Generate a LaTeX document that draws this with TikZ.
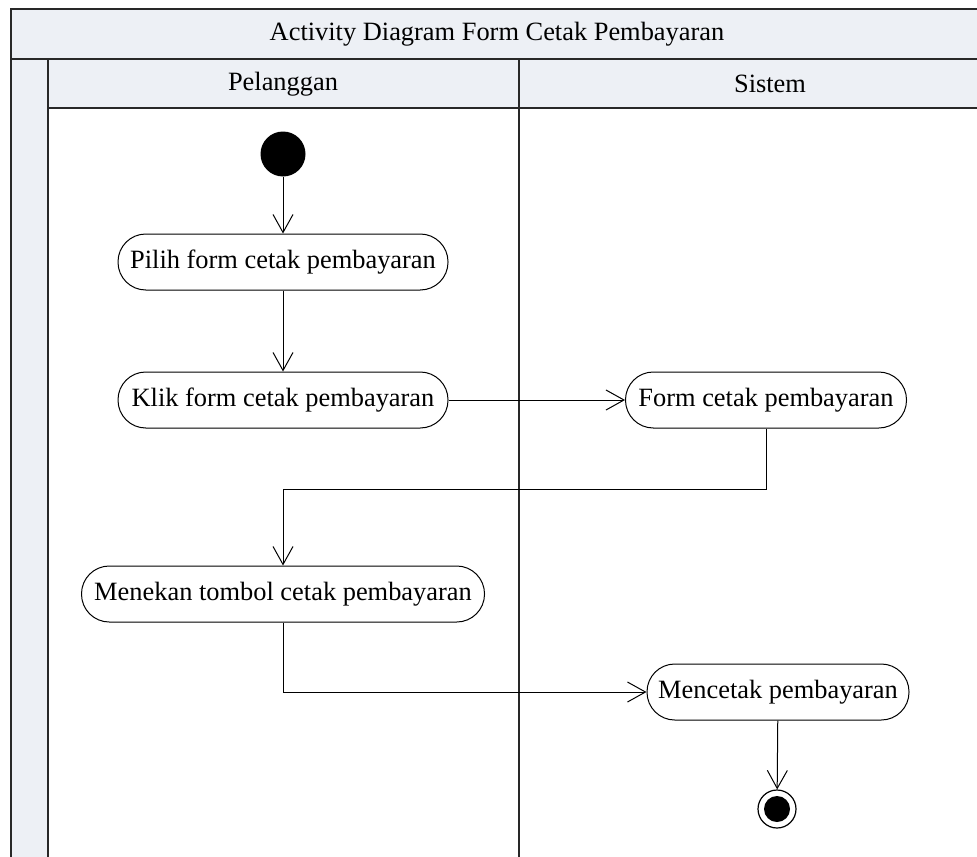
\documentclass[tikz,border=0pt]{standalone}
\usepackage{fontspec}
\setmainfont{Liberation Serif}
\usetikzlibrary{arrows.meta}
\definecolor{lanefill}{RGB}{237,240,245}
\definecolor{laneline}{RGB}{40,40,40}
\tikzset{
  act/.style={draw=black, line width=0.5pt, rounded corners=13.9pt, minimum height=28pt, inner sep=0pt, fill=white, font=\fontsize{13.2}{16}\selectfont},
  flow/.style={draw=black, line width=0.5pt, -{Straight Barb[length=9pt,width=10pt]}},
  lane/.style={draw=laneline, line width=1pt},
  lbl/.style={font=\fontsize{13.2}{16}\selectfont}
}
\begin{document}
\begin{tikzpicture}[x=0.5pt,y=-0.5pt]
	\useasboundingbox (0,0) rectangle (977,856);
	\clip (0,0) rectangle (977,856);
	% swimlanes
	\fill[lanefill] (11,9) rectangle (990,108);
	\fill[lanefill] (11,59) rectangle (48,870);
	\draw[lane] (11,870) -- (11,9) -- (990,9);
	\draw[lane] (11,59) -- (990,59);
	\draw[lane] (48,870) -- (48,59);
	\draw[lane] (48,108) -- (990,108);
	\draw[lane] (519,59) -- (519,870);
	\node[lbl] (title) at (497,34) {Activity Diagram Form Cetak Pembayaran};
	\node[lbl] (pelanggan) at (283,84) {Pelanggan};
	\node[lbl] (sistem) at (770,84) {Sistem};
	% activities
	\node[circle, fill=black, minimum size=22.5pt, inner sep=0pt] (start) at (283,154) {};
	\node[act, minimum width=165pt] (pilih) at (283,262) {Pilih form cetak pembayaran};
	\node[act, minimum width=165pt] (klik) at (283,400) {Klik form cetak pembayaran};
	\node[act, minimum width=140.5pt] (form) at (766,400) {Form cetak pembayaran};
	\node[act, minimum width=201.5pt] (menekan) at (283,594) {Menekan tombol cetak pembayaran};
	\node[act, minimum width=131pt] (mencetak) at (778,692) {Mencetak pembayaran};
	\node[circle, draw=black, line width=0.6pt, fill=white, minimum size=19pt, inner sep=0pt] (end) at (777,809) {};
	\fill[black] (end) circle (6.5pt);
	% flows
	\draw[flow] (start) -- (pilih);
	\draw[flow] (pilih) -- (klik);
	\draw[flow] (klik) -- (form);
	\draw[flow] (form.south) -- (form.south |- 0,489) -| (menekan.north);
	\draw[flow] (menekan.south) |- (mencetak.west);
	\draw[flow] (mencetak) -- (end);
\end{tikzpicture}
\end{document}
